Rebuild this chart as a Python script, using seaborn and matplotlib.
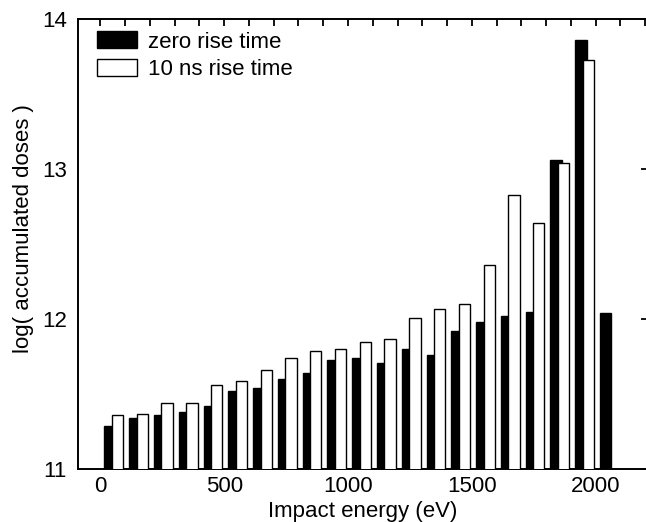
import numpy as np
import pandas as pd
import matplotlib
matplotlib.use("Agg")
import matplotlib.pyplot as plt
from matplotlib.patches import Patch
from matplotlib.ticker import MultipleLocator
import seaborn as sns

# impact energy bins (eV), lower edge of each 100 eV bin
energy_zero = [0, 100, 200, 300, 400, 500, 600, 700, 800, 900, 1000,
               1100, 1200, 1300, 1400, 1500, 1600, 1700, 1800, 1900, 2000]
energy_10ns = [0, 100, 200, 300, 400, 500, 600, 700, 800, 900, 1000,
               1100, 1200, 1300, 1400, 1500, 1600, 1700, 1800, 1900]

# log(accumulated doses)
dose_zero = [11.29, 11.34, 11.36, 11.38, 11.42, 11.52, 11.54, 11.60, 11.64, 11.73, 11.74,
             11.71, 11.80, 11.76, 11.92, 11.98, 12.02, 12.05, 13.06, 13.86, 12.04]
dose_10ns = [11.36, 11.37, 11.44, 11.44, 11.56, 11.59, 11.66, 11.74, 11.79, 11.80, 11.85,
             11.87, 12.01, 12.07, 12.10, 12.36, 12.83, 12.64, 13.04, 13.73]

labels = ["zero rise time", "10 ns rise time"]

sns.set_style("white")
plt.rcParams["font.family"] = ["Liberation Sans", "DejaVu Sans"]
plt.rcParams["font.size"] = 16
plt.rcParams["text.color"] = "black"
plt.rcParams["axes.labelcolor"] = "black"

df_zero = pd.DataFrame({"energy": np.array(energy_zero) + 40, "dose": dose_zero})
df_10ns = pd.DataFrame({"energy": np.array(energy_10ns) + 70, "dose": dose_10ns})

fig = plt.figure(figsize=(6.46, 5.22), dpi=100)
ax = fig.add_axes([0.1207, 0.101, 0.882, 0.862])

sns.barplot(data=df_zero, x="energy", y="dose", native_scale=True, width=0.46,
            color="black", edgecolor="black", linewidth=1.0, saturation=1,
            errorbar=None, ax=ax, zorder=2)
sns.barplot(data=df_10ns, x="energy", y="dose", native_scale=True, width=0.46,
            color="white", edgecolor="black", linewidth=1.0, saturation=1,
            errorbar=None, ax=ax, zorder=3)

ax.set_xlim(-90, 2210)
ax.set_ylim(11, 14)
ax.xaxis.set_major_locator(MultipleLocator(500))
ax.xaxis.set_minor_locator(MultipleLocator(100))
ax.set_yticks([11, 12, 13, 14])

ax.tick_params(which="both", direction="in", top=True, right=True,
               length=5, width=1.3, colors="black", labelsize=16)
ax.tick_params(axis="x", which="major", pad=5)
ax.tick_params(axis="y", which="major", pad=8)
for s in ax.spines.values():
    s.set_linewidth(1.4)
    s.set_color("black")

ax.set_xlabel("Impact energy (eV)", fontsize=16, labelpad=2.5)
ax.set_ylabel("log( accumulated doses )", fontsize=16, labelpad=6, y=0.536)

handles = [Patch(facecolor="black", edgecolor="black", linewidth=1.0),
           Patch(facecolor="white", edgecolor="black", linewidth=1.0)]
ax.legend(handles, labels, loc="upper left", bbox_to_anchor=(0.033, 0.973),
          frameon=False, fontsize=16, handlelength=1.8, handleheight=0.8,
          handletextpad=0.5, labelspacing=0.28, borderpad=0, borderaxespad=0)

fig.savefig("out.png", dpi=100)
